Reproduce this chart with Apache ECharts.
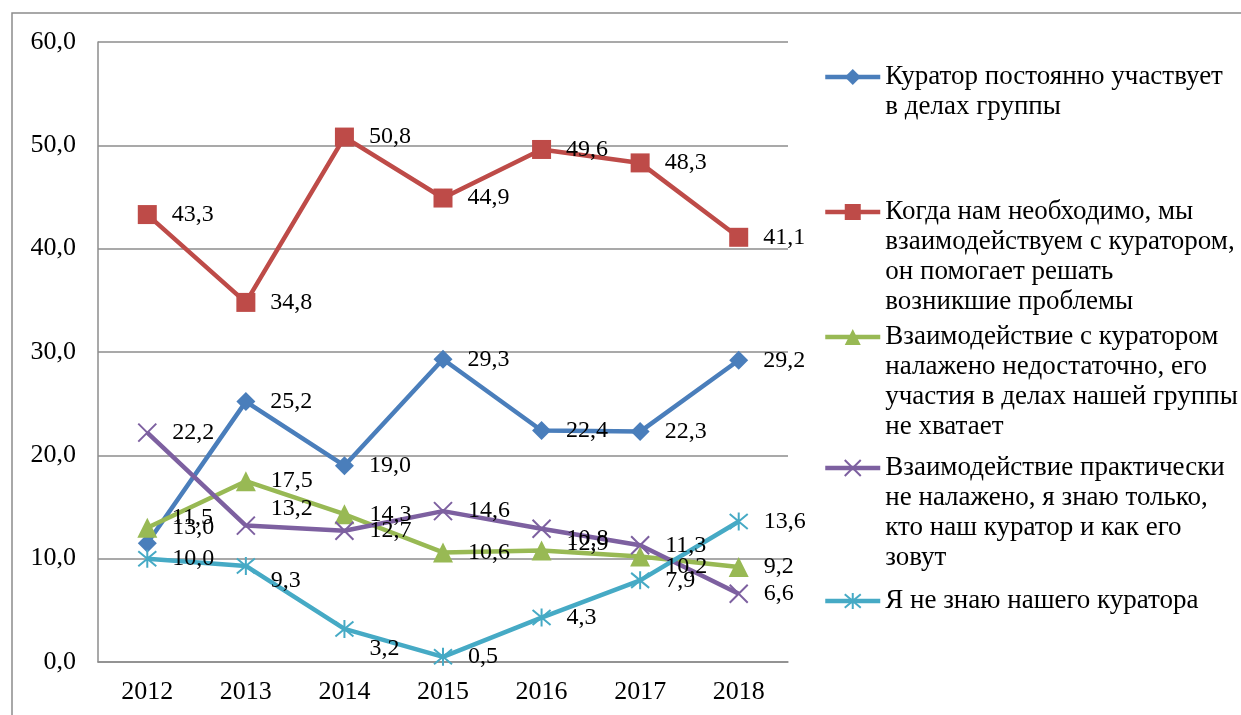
<!DOCTYPE html>
<html>
<head>
<meta charset="utf-8">
<script src="https://cdn.jsdelivr.net/npm/echarts@6/dist/echarts.min.js"></script>
<style>
  html, body { margin: 0; padding: 0; background: #fff; }
  #chart { width: 1241px; height: 715px; }
</style>
</head>
<body>
<div id="chart"></div>
<script>
// годы опроса
const years = ['2012', '2013', '2014', '2015', '2016', '2017', '2018']

// названия рядов (переносы строк как в легенде)
const names = [
  'Куратор постоянно участвует\nв делах группы',
  'Когда нам необходимо, мы\nвзаимодействуем с куратором,\nон помогает решать\nвозникшие проблемы',
  'Взаимодействие с куратором\nналажено недостаточно, его\nучастия в делах нашей группы\nне хватает',
  'Взаимодействие практически\nне налажено, я знаю только,\nкто наш куратор и как его\nзовут',
  'Я не знаю нашего куратора'
]

// значения, %
const postoyanno = [11.5, 25.2, 19.0, 29.3, 22.4, 22.3, 29.2]
const kogdaNado = [43.3, 34.8, 50.8, 44.9, 49.6, 48.3, 41.1]
const nedostatochno = [13.0, 17.5, 14.3, 10.6, 10.8, 10.2, 9.2]
const neNalazheno = [22.2, 13.2, 12.7, 14.6, 12.9, 11.3, 6.6]
const neZnayu = [10.0, 9.3, 3.2, 0.5, 4.3, 7.9, 13.6]

const values = [postoyanno, kogdaNado, nedostatochno, neNalazheno, neZnayu]
const colors = ['#4A7EBB', '#BE4B48', '#98B954', '#7D60A0', '#46AAC5']
const symbols = [
  'diamond',
  'rect',
  'triangle',
  'path://M0,0L10,10M10,0L0,10',
  'path://M0,0L10,10M10,0L0,10M5,-1L5,11'
]
// сдвиг подписей по вертикали там, где они налезают друг на друга
const labelShift = [
  { 0: -25 },
  {},
  { 4: -12, 5: 10 },
  { 1: -17, 4: 15 },
  { 1: 15, 2: 20 }
]
// центры значков легенды по вертикали
const legendCenters = [77, 212, 337, 468, 601]

const fmt = (v) => v.toFixed(1).replace('.', ',')
const FONT = '"Liberation Serif", "Times New Roman", serif'
const LH = 30

const chart = echarts.init(document.getElementById('chart'))

const series = values.map((arr, i) => {
  const stroked = i >= 3
  return {
    name: names[i],
    type: 'line',
    data: arr.map((v, j) => {
      const dy = labelShift[i][j]
      return dy ? { value: v, label: { offset: [0, dy] } } : v
    }),
    symbol: symbols[i],
    symbolSize: stroked ? 18 : (i === 2 ? 20 : 19),
    lineStyle: { color: colors[i], width: 4.5 },
    itemStyle: stroked
      ? { color: 'rgba(0,0,0,0)', borderColor: colors[i], borderWidth: 2 }
      : { color: colors[i] },
    label: {
      show: true,
      position: 'right',
      distance: 15,
      color: '#000',
      fontFamily: FONT,
      fontSize: 24,
      formatter: (p) => fmt(p.value)
    },
    emphasis: { disabled: true },
    animation: false
  }
})

// отдельная легенда для каждого ряда; пустые строки сверху,
// чтобы значок стоял напротив первой строки текста
const legends = names.map((nm, i) => {
  const n = nm.split('\n').length
  return {
    data: [nm],
    orient: 'vertical',
    left: 823,
    top: legendCenters[i] - (n - 0.5) * LH,
    padding: 0,
    itemWidth: 55,
    itemHeight: 20,
    selectedMode: false,
    lineStyle: { width: 4.5 },
    formatter: (name) => '\n'.repeat(n - 1) + name,
    textStyle: {
      fontFamily: FONT,
      fontSize: 27,
      color: '#000',
      lineHeight: LH
    }
  }
})

const option = {
  backgroundColor: '#fff',
  animation: false,
  color: colors,
  grid: { left: 98, right: 453, top: 42, bottom: 53 },
  legend: legends,
  xAxis: {
    type: 'category',
    data: years,
    boundaryGap: true,
    axisLine: { lineStyle: { color: '#8C8C8C', width: 1.5 } },
    axisTick: { show: false },
    axisLabel: { color: '#000', fontFamily: FONT, fontSize: 26, margin: 17 }
  },
  yAxis: {
    type: 'value',
    min: 0,
    max: 60,
    interval: 10,
    axisLine: { show: true, lineStyle: { color: '#8C8C8C', width: 1.5 } },
    axisTick: { show: false },
    splitLine: { lineStyle: { color: '#8C8C8C', width: 1.5 } },
    axisLabel: { color: '#000', fontFamily: FONT, fontSize: 26, margin: 22, formatter: fmt }
  },
  graphic: [{
    type: 'rect',
    shape: { x: 12, y: 13, width: 1300, height: 800 },
    style: { fill: 'none', stroke: '#8C8C8C', lineWidth: 1.5 },
    silent: true
  }],
  series: series
}

chart.setOption(option)
</script>
</body>
</html>
